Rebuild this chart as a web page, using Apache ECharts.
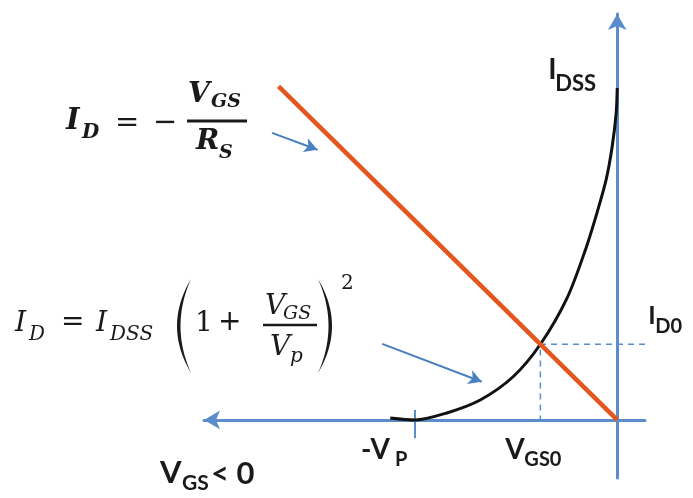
<!DOCTYPE html>
<html>
<head>
<meta charset="utf-8">
<script src="https://cdn.jsdelivr.net/npm/echarts@6/dist/echarts.min.js"></script>
<style>
  html, body { margin: 0; padding: 0; background: #fff; }
  #chart { width: 693px; height: 498px; }
</style>
</head>
<body>
<div id="chart"></div>
<script>
// JFET self-bias: transfer curve and bias line (VGS in V, ID in mA)
const vgsCurve = [-4.49, -4.0, -3.37, -2.71, -2.06, -1.52, -0.99, -0.63, -0.40, -0.22, -0.10, -0.02, 0];
const idCurve  = [0.06, 0.0, 0.21, 0.60, 1.30, 2.28, 3.68, 5.12, 6.24, 7.23, 8.23, 9.25, 10.0];

// Bias line ID = -VGS / RS
const vgsBias = [-6.7, 0];
const idBias  = [10.05, 0];

// Characteristic points
const IDSS = 10.0;
const VP = 4.0;
const VGS0 = -1.52;
const ID0 = 2.28;

// Pointer arrows from the equations to their graphs: [tail, head]
const pointerBias  = [[-6.83, 8.65], [-5.93, 8.14]];
const pointerCurve = [[-4.65, 2.29], [-2.68, 1.15]];

const AXIS_BLUE = '#5B8DCB';
const ORANGE = '#E4561F';
const INK = '#1a1a1a';

const zip = (xs, ys) => xs.map((x, i) => [x, ys[i]]);

const chart = echarts.init(document.getElementById('chart'), null, { renderer: 'canvas' });

const axisCommon = {
  type: 'value',
  splitLine: { show: false },
  axisTick: { show: false },
  axisLabel: { show: false }
};

chart.setOption({
  animation: false,
  backgroundColor: '#fff',
  grid: { left: 204, right: 48, top: 14, bottom: 20 },
  xAxis: Object.assign({}, axisCommon, {
    min: -8.175, max: 0.55,
    axisLine: {
      show: true, onZero: true,
      symbol: ['arrow', 'none'], symbolSize: [14, 16],
      lineStyle: { color: AXIS_BLUE, width: 3 }
    }
  }),
  yAxis: Object.assign({}, axisCommon, {
    min: -1.75, max: 12.23,
    axisLine: {
      show: true, onZero: true,
      symbol: ['none', 'arrow'], symbolSize: [14, 16],
      lineStyle: { color: AXIS_BLUE, width: 3 }
    }
  }),
  series: [
    {
      name: 'guides',
      type: 'line',
      data: [[0.55, ID0], [VGS0, ID0], [VGS0, 0]],
      showSymbol: false, silent: true, z: 2,
      lineStyle: { color: AXIS_BLUE, width: 1.5, type: [6, 5] }
    },
    {
      name: '-VP tick',
      type: 'line',
      data: [[-VP, 0.3], [-VP, -0.55]],
      showSymbol: false, silent: true, z: 2,
      lineStyle: { color: AXIS_BLUE, width: 2 }
    },
    {
      name: 'transfer',
      type: 'line',
      data: zip(vgsCurve, idCurve),
      smooth: 0.3,
      showSymbol: false, silent: true, z: 3,
      lineStyle: { color: '#111', width: 3 }
    },
    {
      name: 'bias',
      type: 'line',
      data: zip(vgsBias, idBias),
      showSymbol: false, silent: true, z: 4,
      lineStyle: { color: ORANGE, width: 4.5 }
    },
    {
      name: 'pointers',
      type: 'line',
      data: [],
      silent: true, z: 5,
      markLine: {
        silent: true,
        symbol: ['none', 'arrow'],
        symbolSize: [11, 13],
        label: { show: false },
        lineStyle: { color: '#4A7FC1', width: 2, type: 'solid' },
        emphasis: { disabled: true },
        data: [
          [{ coord: pointerBias[0] }, { coord: pointerBias[1] }],
          [{ coord: pointerCurve[0] }, { coord: pointerCurve[1] }]
        ]
      }
    }
  ]
});

// ---- text and equation overlays ----
const SERIF = '"DejaVu Serif", serif';
const OPS = '"DejaVu Sans", sans-serif';
const SANS = 'Lato, "Open Sans", sans-serif';

function txt(text, x, y, size, o) {
  o = o || {};
  const font = (o.italic ? 'italic ' : '') + (o.bold ? 'bold ' : '') + size + 'px ' + (o.family || SERIF);
  return {
    type: 'text', x: x, y: y, z: 20, silent: true,
    style: {
      text: text, fill: INK, font: font,
      align: 'left', verticalAlign: 'middle',
      textAlign: 'left', textVerticalAlign: 'middle'
    }
  };
}
function hbar(x1, x2, y, w) {
  return { type: 'line', z: 20, silent: true,
    shape: { x1: x1, y1: y, x2: x2, y2: y },
    style: { stroke: INK, lineWidth: w } };
}
// Tall tapered bracket built from two quadratic curves
function paren(xEnd, yTop, yBot, outer, inner) {
  const pts = [];
  const n = 24;
  const ym = (yTop + yBot) / 2;
  const q = (c, t) => [
    (1 - t) * (1 - t) * xEnd + 2 * (1 - t) * t * c + t * t * xEnd,
    (1 - t) * (1 - t) * yTop + 2 * (1 - t) * t * ym + t * t * yBot
  ];
  for (let i = 0; i <= n; i++) pts.push(q(outer, i / n));
  for (let i = n; i >= 0; i--) pts.push(q(inner, i / n));
  return { type: 'polygon', z: 20, silent: true, shape: { points: pts }, style: { fill: INK } };
}

const px = (v, i) => chart.convertToPixel({ gridIndex: 0 }, [v, i]);
const pIdss = px(0, IDSS);
const pId0 = px(0, ID0);
const pVp = px(-VP, 0);
const pVgs0 = px(VGS0, 0);

const g = [
  // axis point labels
  txt('I', pIdss[0] - 69, pIdss[1] - 18, 28, { bold: true, family: SANS }),
  txt('DSS', pIdss[0] - 62, pIdss[1] - 4, 22, { bold: true, family: SANS }),
  txt('I', pId0[0] + 31, pId0[1] - 28, 25, { bold: true, family: SANS }),
  txt('D0', pId0[0] + 38, pId0[1] - 18, 20, { bold: true, family: SANS }),
  txt('-V', pVp[0] - 54, pVp[1] + 30, 28, { bold: true, family: SANS }),
  txt('P', pVp[0] - 20, pVp[1] + 40, 20, { bold: true, family: SANS }),
  txt('V', pVgs0[0] - 35, pVgs0[1] + 30, 28, { bold: true, family: SANS }),
  txt('GS0', pVgs0[0] - 16, pVgs0[1] + 40, 20, { bold: true, family: SANS }),
  // horizontal axis title
  txt('V', 160, 473, 31, { bold: true, family: SANS }),
  txt('GS', 182, 483, 21, { bold: true, family: SANS }),
  txt('< 0', 211, 474, 31, { bold: true, family: SANS }),

  // I_D = -V_GS / R_S
  txt('I', 66, 121, 29, { bold: true, italic: true }),
  txt('D', 82, 133, 20, { bold: true, italic: true }),
  txt('=', 115, 123, 29, { family: OPS }),
  txt('\u2212', 153, 123, 29, { family: OPS }),
  hbar(187, 247, 121, 3),
  txt('V', 188, 95, 28, { bold: true, italic: true }),
  txt('GS', 211, 102, 19, { bold: true, italic: true }),
  txt('R', 196, 142, 28, { bold: true, italic: true }),
  txt('S', 219, 153, 19, { bold: true, italic: true }),

  // I_D = I_DSS (1 + V_GS / V_p)^2
  txt('I', 15, 324, 28, { italic: true }),
  txt('D', 29, 335, 20, { italic: true }),
  txt('=', 61, 323, 28, { family: OPS }),
  txt('I', 96, 324, 28, { italic: true }),
  txt('DSS', 110, 335, 20, { italic: true }),
  paren(191, 279, 373, 163, 170),
  txt('1', 195, 324, 28, {}),
  txt('+', 218, 323, 28, { family: OPS }),
  hbar(263, 317, 325, 2.5),
  txt('V', 265, 307, 28, { italic: true }),
  txt('GS', 283, 314, 19, { italic: true }),
  txt('V', 270, 348, 28, { italic: true }),
  txt('p', 290, 357, 20, { italic: true }),
  paren(318, 279, 373, 346, 339),
  txt('2', 341, 284, 20, {})
];

chart.setOption({ graphic: g });
</script>
</body>
</html>
